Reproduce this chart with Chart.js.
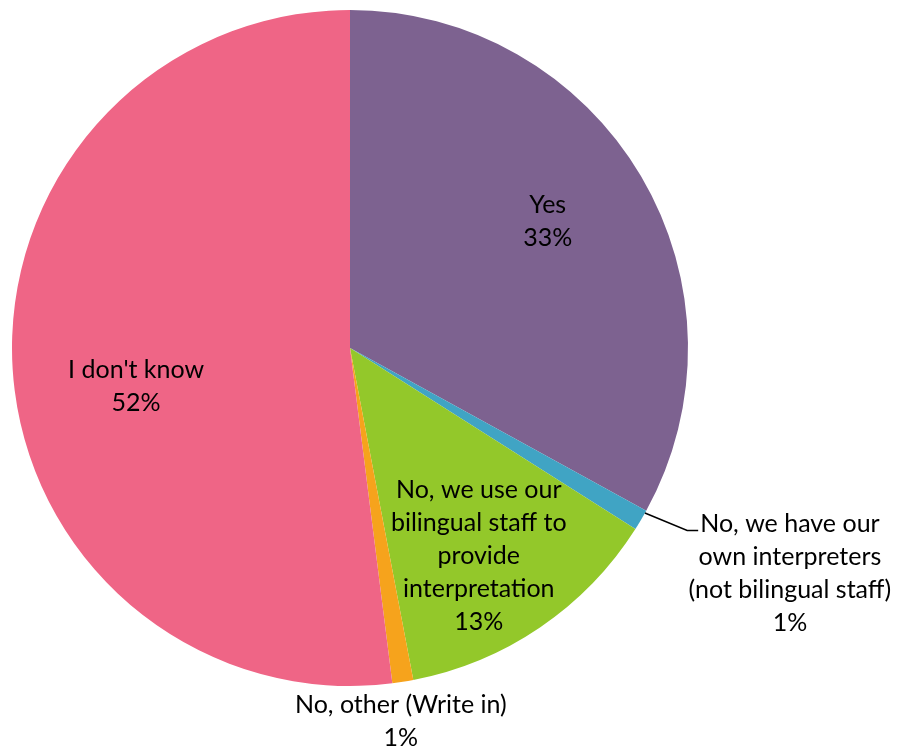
<!DOCTYPE html>
<html>
<head>
<meta charset="utf-8">
<script src="https://cdn.jsdelivr.net/npm/chart.js@4.4.0/dist/chart.umd.min.js"></script>
<style>
  html, body { margin: 0; padding: 0; background: #fff; }
  canvas { display: block; }
</style>
</head>
<body>
<canvas id="pieChart" width="904" height="751"></canvas>
<script>
// answers, clockwise from 12 o'clock
const categories = [
    'Yes',
    'No, we have our own interpreters (not bilingual staff)',
    'No, we use our bilingual staff to provide interpretation',
    'No, other (Write in)',
    "I don't know"
];
const shares = [33, 1, 13, 1, 52];
const labelLines = [
    ['Yes'],
    ['No, we have our', 'own interpreters', '(not bilingual staff)'],
    ['No, we use our', 'bilingual staff to', 'provide', 'interpretation'],
    ['No, other (Write in)'],
    ["I don't know"]
];
const sliceColors = ['#7d6290', '#40a4c4', '#93c82a', '#f6a31c', '#ef6586'];

// where each label sits: inside = fraction of radius along the mid angle,
// outside = pixel offset from the rim point
const labelPlace = [
    { inside: true, f: 0.69, dx: -3, dy: -8 },
    { inside: false, dx: 149, dy: 53, leader: true },
    { inside: true, f: 0.72, dx: -8, dy: 7 },
    { inside: false, dx: -2, dy: 40 },
    { inside: true, f: 0.64, dx: 2, dy: 25 }
];

const FONT = '25px Lato';
const LINE_H = 33;

const sliceLabels = {
    id: 'sliceLabels',
    afterDatasetsDraw(chart) {
        const ctx = chart.ctx;
        const meta = chart.getDatasetMeta(0);
        ctx.save();
        ctx.font = FONT;
        ctx.fillStyle = '#000';
        ctx.textAlign = 'center';
        ctx.textBaseline = 'middle';
        meta.data.forEach((arc, i) => {
            const p = arc.getProps(['x', 'y', 'startAngle', 'endAngle', 'outerRadius'], true);
            const mid = (p.startAngle + p.endAngle) / 2;
            const place = labelPlace[i];
            const lines = labelLines[i].concat([Math.round(shares[i]) + '%']);
            let cx, cy;
            if (place.inside) {
                cx = p.x + Math.cos(mid) * p.outerRadius * place.f + place.dx;
                cy = p.y + Math.sin(mid) * p.outerRadius * place.f + place.dy;
            } else {
                const ex = p.x + Math.cos(mid) * p.outerRadius;
                const ey = p.y + Math.sin(mid) * p.outerRadius;
                cx = ex + place.dx;
                cy = ey + place.dy;
                if (place.leader) {
                    const top = cy - (lines.length - 1) * LINE_H / 2;
                    const w = ctx.measureText(lines[0]).width;
                    ctx.beginPath();
                    ctx.strokeStyle = '#000';
                    ctx.lineWidth = 1.5;
                    ctx.moveTo(ex + 4, ey - 7);
                    ctx.lineTo(cx - w / 2 - 13, top + 7);
                    ctx.lineTo(cx - w / 2 - 2, top + 7);
                    ctx.stroke();
                }
            }
            const y0 = cy - (lines.length - 1) * LINE_H / 2;
            lines.forEach((t, k) => ctx.fillText(t, cx, y0 + k * LINE_H));
        });
        ctx.restore();
    }
};

new Chart(document.getElementById('pieChart').getContext('2d'), {
    type: 'pie',
    data: {
        labels: categories,
        datasets: [{
            data: shares,
            backgroundColor: sliceColors,
            borderWidth: 0
        }]
    },
    options: {
        responsive: false,
        animation: false,
        layout: { padding: { left: 12, right: 216, top: 10, bottom: 65 } },
        plugins: {
            legend: { display: false },
            tooltip: { enabled: false }
        }
    },
    plugins: [sliceLabels]
});
</script>
</body>
</html>
